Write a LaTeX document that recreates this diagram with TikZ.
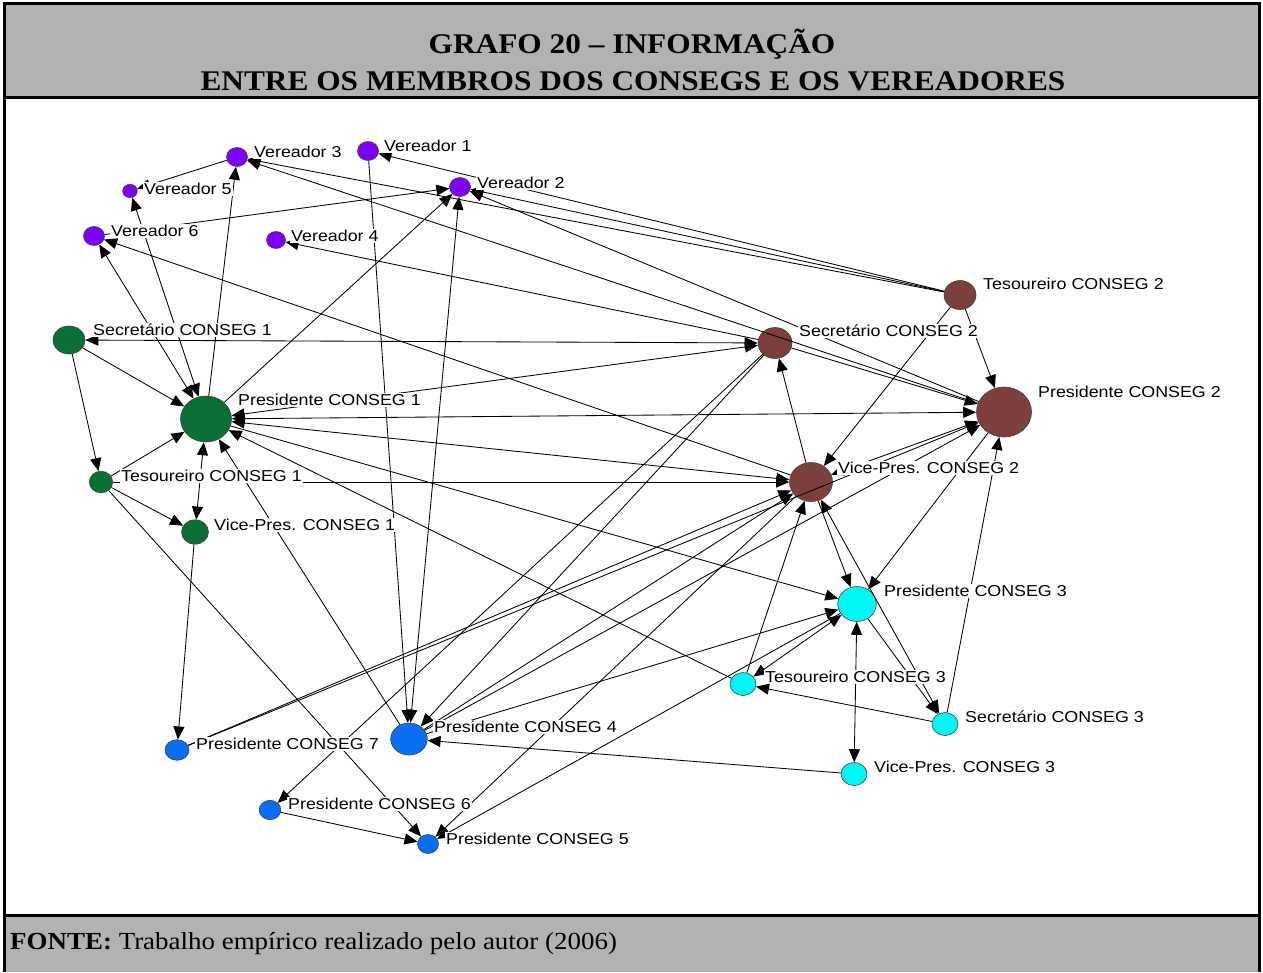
\documentclass[tikz,border=0pt]{standalone}
\usepackage{fontspec}
\setmainfont{Liberation Serif}
\newfontfamily\labelfont[FakeStretch=1.13]{Liberation Sans}
\newfontfamily\titlefont[FakeStretch=1.1]{Liberation Serif}
\usetikzlibrary{shapes.geometric,arrows.meta}

\definecolor{vpurple}{RGB}{125,0,245}
\definecolor{cgreen}{RGB}{10,110,55}
\definecolor{cbrown}{RGB}{125,62,62}
\definecolor{ccyan}{RGB}{0,245,245}
\definecolor{cblue}{RGB}{10,110,240}
\definecolor{panelgray}{RGB}{178,178,178}

\tikzset{
  tip/.tip={Triangle[length=13pt,width=11pt]},
  tie/.style={line width=0.85pt, -tip},
  mutual/.style={line width=0.85pt, tip-tip},
  actor/.style={shape=ellipse, draw=black!75, line width=0.6pt, inner sep=0pt},
  tag/.style={font=\labelfont\fontsize{15.8}{17}\selectfont, fill=white, anchor=west,
              inner xsep=1pt, inner ysep=1pt, text height=11.3pt, text depth=0pt}
}

\begin{document}
\begin{tikzpicture}[x=1pt, y=-1pt]
\useasboundingbox (0,0) rectangle (1263,972);

% frame, header and footer panels
\fill[panelgray] (4,3) rectangle (1259,97);
\fill[panelgray] (4,915) rectangle (1259,972);
\draw[line width=3pt] (4,972) -- (4,3) -- (1259,3) -- (1259,972);
\draw[line width=3pt] (4,97) -- (1259,97);
\draw[line width=3pt] (4,915) -- (1259,915);

\node[anchor=base, inner sep=0pt] (title1) at (632,53)
  {\titlefont\bfseries\fontsize{28.5}{30}\selectfont GRAFO 20 – INFORMAÇÃO};
\node[anchor=base, inner sep=0pt] (title2) at (633,90)
  {\titlefont\bfseries\fontsize{28.5}{30}\selectfont ENTRE OS MEMBROS DOS CONSEGS E OS VEREADORES};
\node[anchor=base west, inner sep=0pt] (fonte) at (10,949)
  {\titlefont\fontsize{24.5}{26}\selectfont\textbf{FONTE:} Trabalho empírico realizado pelo autor (2006)};

% actors
\node[actor, fill=vpurple, minimum width=21pt, minimum height=19pt] (v1) at (368,151) {};
\node[actor, fill=vpurple, minimum width=21pt, minimum height=19pt] (v2) at (460,187) {};
\node[actor, fill=vpurple, minimum width=21pt, minimum height=19pt] (v3) at (237,157) {};
\node[actor, fill=vpurple, minimum width=19pt, minimum height=17pt] (v4) at (276,240) {};
\node[actor, fill=vpurple, minimum width=14.6pt, minimum height=13.4pt] (v5) at (130,191) {};
\node[actor, fill=vpurple, minimum width=21pt, minimum height=19pt] (v6) at (94,236) {};

\node[actor, fill=cgreen, minimum width=32pt, minimum height=28pt] (s1) at (69,340) {};
\node[actor, fill=cgreen, minimum width=51pt, minimum height=46pt] (p1) at (206,419) {};
\node[actor, fill=cgreen, minimum width=23.4pt, minimum height=21.6pt] (t1) at (101,482) {};
\node[actor, fill=cgreen, minimum width=27pt, minimum height=24.4pt] (vp1) at (195,532) {};

\node[actor, fill=cbrown, minimum width=32pt, minimum height=29pt] (t2) at (960,295) {};
\node[actor, fill=cbrown, minimum width=34pt, minimum height=31pt] (s2) at (775,343) {};
\node[actor, fill=cbrown, minimum width=55pt, minimum height=50pt] (p2) at (1004,412) {};
\node[actor, fill=cbrown, minimum width=43pt, minimum height=39pt] (vp2) at (811,482) {};

\node[actor, fill=ccyan, minimum width=38.6pt, minimum height=35pt] (p3) at (857,604) {};
\node[actor, fill=ccyan, minimum width=26pt, minimum height=23pt] (t3) at (743,684) {};
\node[actor, fill=ccyan, minimum width=26pt, minimum height=23pt] (s3) at (945,724) {};
\node[actor, fill=ccyan, minimum width=26pt, minimum height=23pt] (vp3) at (854,774) {};

\node[actor, fill=cblue, minimum width=36.6pt, minimum height=32pt] (p4) at (409,739) {};
\node[actor, fill=cblue, minimum width=24pt, minimum height=20.6pt] (p7) at (177,750) {};
\node[actor, fill=cblue, minimum width=21.6pt, minimum height=19.4pt] (p6) at (270,810) {};
\node[actor, fill=cblue, minimum width=21pt, minimum height=19pt] (p5) at (428,844) {};

% ties
\draw[tie] (t2) -- (v1);
\draw[tie] (t2) -- (v2);
\draw[tie] (t2) -- (v3);
\draw[tie] (p2) -- (v2);
\draw[tie] (p2) -- (v3);
\draw[tie] (s2) -- (v4);
\draw[tie] (v3) -- (v5);
\draw[mutual] (p1) -- (v5);
\draw[mutual] (p1) -- (v6);
\draw[tie] (vp2) -- (v6);
\draw[tie] (v6) -- (v2);
\draw[tie] (p1) -- (v3);
\draw[tie] (p1) -- (v2);
\draw[tie] (v1) -- (p4);
\draw[mutual] (v2) -- (p4);

\draw[tie] (s1) -- (p1);
\draw[tie] (s1) -- (t1);
\draw[mutual] (s1) -- (s2);
\draw[tie] (t1) -- (p1);
\draw[tie] (t1) -- (vp1);
\draw[mutual] (p1) -- (vp1);
\draw[tie] (vp1) -- (p7);
\draw[tie] (t1) -- (p5);
\draw[tie] (t1) -- (vp2);
\draw[mutual] (p1) -- (s2);
\draw[mutual] (p1) -- (p2);
\draw[mutual] (p1) -- (vp2);
\draw[tie] (p1) -- (p3);
\draw[tie] (p4) -- (p1);
\draw[tie] (t3) -- (p1);

\draw[tie] (t2) -- (p2);
\draw[tie] (t2) -- (vp2);
\draw[tie] (s2) -- (p2);
\draw[tie] (vp2) -- (s2);
\draw[mutual] (vp2) -- (p2);
\draw[tie] (p2) -- (p3);
\draw[tie] (s3) -- (p2);
\draw[tie] (vp2) -- (p3);
\draw[mutual] (vp2) -- (s3);
\draw[tie] (p3) -- (s3);
\draw[tie] (t3) -- (vp2);
\draw[tie] (vp3) -- (p4);
\draw[mutual] (vp3) -- (p3);
\draw[tie] (s3) -- (t3);
\draw[mutual] (t3) -- (p3);
\draw[tie] (p7) -- (vp2);
\draw[tie] (p7) -- (p2);
\draw[tie] (p4) -- (p3);
\draw[tie] (p4) -- (p2);
\draw[tie] (p4) -- (vp2);
\draw[tie] (s2) -- (p4);
\draw[tie] (p6) -- (p5);
\draw[tie] (s2) -- (p6);
\draw[tie] (vp2) -- (p5);
\draw[tie] (p3) -- (p5);

% labels
\node[tag] (v1l) at (383,146) {Vereador 1};
\node[tag] (v2l) at (476,183) {Vereador 2};
\node[tag] (v3l) at (253,152) {Vereador 3};
\node[tag] (v4l) at (290,236) {Vereador 4};
\node[tag] (v5l) at (143,189) {Vereador 5};
\node[tag] (v6l) at (110,231) {Vereador 6};
\node[tag] (s1l) at (92,330) {Secretário CONSEG 1};
\node[tag] (p1l) at (237,400) {Presidente CONSEG 1};
\node[tag] (t1l) at (120,476) {Tesoureiro CONSEG 1};
\node[tag] (vp1l) at (213,525) {Vice-Pres. CONSEG 1};
\node[tag] (t2l) at (982,284) {Tesoureiro CONSEG 2};
\node[tag] (s2l) at (798,331) {Secretário CONSEG 2};
\node[tag] (p2l) at (1037,392) {Presidente CONSEG 2};
\node[tag] (vp2l) at (837,468) {Vice-Pres. CONSEG 2};
\node[tag] (p3l) at (883,591) {Presidente CONSEG 3};
\node[tag] (t3l) at (764,677) {Tesoureiro CONSEG 3};
\node[tag] (s3l) at (964,717) {Secretário CONSEG 3};
\node[tag] (vp3l) at (873,767) {Vice-Pres. CONSEG 3};
\node[tag] (p4l) at (433,727) {Presidente CONSEG 4};
\node[tag] (p7l) at (195,744) {Presidente CONSEG 7};
\node[tag] (p6l) at (287,804) {Presidente CONSEG 6};
\node[tag] (p5l) at (445,839) {Presidente CONSEG 5};
\end{tikzpicture}
\end{document}
